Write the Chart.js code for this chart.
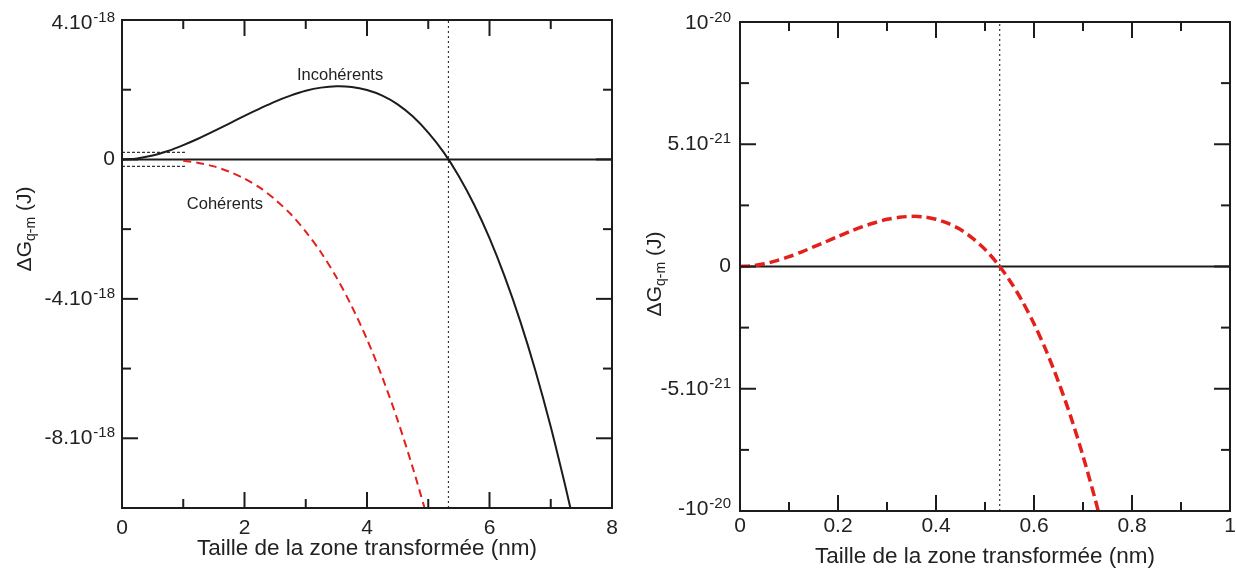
<!DOCTYPE html>
<html>
<head>
<meta charset="utf-8">
<script src="https://cdn.jsdelivr.net/npm/chart.js@4.4.1/dist/chart.umd.min.js"></script>
<style>
    html, body { margin: 0; padding: 0; background: #fff; }
    body { width: 1236px; height: 569px; position: relative; overflow: hidden; }
    canvas { position: absolute; top: 0; }
    #leftChart { left: 0; }
    #rightChart { left: 620px; }
</style>
</head>
<body>
<canvas id="leftChart" width="620" height="569"></canvas>
<canvas id="rightChart" width="616" height="569"></canvas>
<script>
// left panel, energies in 1e-18 J, size in nm
const incohX = [0, 0.25, 0.5, 0.75, 1, 1.25, 1.5, 1.75, 2, 2.25, 2.5, 2.75, 3, 3.25, 3.5, 3.75, 4, 4.25, 4.5, 4.75, 5, 5.25, 5.5, 5.75, 6, 6.25, 6.5, 6.75, 7, 7.25, 7.32];
const incohY = [0, 0.03, 0.11, 0.24, 0.41, 0.6, 0.81, 1.03, 1.25, 1.46, 1.66, 1.83, 1.97, 2.06, 2.1, 2.08, 1.99, 1.83, 1.58, 1.23, 0.77, 0.21, -0.48, -1.3, -2.26, -3.37, -4.63, -6.06, -7.67, -9.46, -10];
const cohX = [1, 1.25, 1.5, 1.75, 2, 2.25, 2.5, 2.75, 3, 3.25, 3.5, 3.75, 4, 4.25, 4.5, 4.75, 4.94];
const cohY = [-0.04, -0.1, -0.2, -0.35, -0.55, -0.81, -1.15, -1.56, -2.07, -2.67, -3.38, -4.21, -5.16, -6.25, -7.48, -8.86, -10];
const leftCritX = 5.33;
const zoomBoxX = [0, 1.04];
const zoomBoxY = [0.2, -0.2];

// right panel, energies in 1e-21 J
const rightX = [0, 0.025, 0.05, 0.075, 0.1, 0.125, 0.15, 0.175, 0.2, 0.225, 0.25, 0.275, 0.3, 0.325, 0.35, 0.375, 0.4, 0.425, 0.45, 0.475, 0.5, 0.525, 0.55, 0.575, 0.6, 0.625, 0.65, 0.675, 0.7, 0.725, 0.731];
const rightY = [0, 0.03, 0.11, 0.24, 0.4, 0.59, 0.8, 1.01, 1.23, 1.44, 1.63, 1.79, 1.93, 2.01, 2.05, 2.03, 1.93, 1.76, 1.51, 1.15, 0.7, 0.13, -0.56, -1.38, -2.34, -3.45, -4.72, -6.14, -7.75, -9.53, -10];
const rightCritX = 0.53;

// tick labels
const leftXMajor = [0, 2, 4, 6, 8];
const leftXMinor = [1, 3, 5, 7];
const leftYValues = [4, 0, -4, -8];
const leftYMant = ["4.10", "0", "-4.10", "-8.10"];
const leftYExp = ["-18", "", "-18", "-18"];
const leftYMinor = [2, -2, -6];

const rightXMajor = [0, 0.2, 0.4, 0.6, 0.8, 1];
const rightXLabels = ["0", "0.2", "0.4", "0.6", "0.8", "1"];
const rightXMinor = [0.1, 0.3, 0.5, 0.7, 0.9];
const rightYValues = [10, 5, 0, -5, -10];
const rightYMant = ["10", "5.10", "0", "-5.10", "-10"];
const rightYExp = ["-20", "-21", "", "-21", "-20"];
const rightYMinor = [7.5, 2.5, -2.5, -7.5];

const xTitle = "Taille de la zone transformée (nm)";
const FONT = '"Liberation Sans", Arial, Helvetica, sans-serif';
const INK = "#1c1c1c";
const RED = "#e3201c";

function pts(xs, ys) {
    return xs.map((x, i) => ({ x: x, y: ys[i] }));
}

function makeDecor(ax) {
    return {
        id: "decor",
        afterDatasetsDraw(chart) {
            let ctx = chart.ctx;
            let a = chart.chartArea;
            let sx = chart.scales.x;
            let sy = chart.scales.y;

            ctx.save();
            ctx.strokeStyle = INK;
            ctx.lineWidth = 2;
            ctx.strokeRect(a.left, a.top, a.right - a.left, a.bottom - a.top);

            let line = (x1, y1, x2, y2) => {
                ctx.beginPath();
                ctx.moveTo(x1, y1);
                ctx.lineTo(x2, y2);
                ctx.stroke();
            };

            let xTicks = (vals, len) => vals.forEach(v => {
                let px = sx.getPixelForValue(v);
                if (px <= a.left + 1 || px >= a.right - 1) return;
                line(px, a.bottom, px, a.bottom - len);
                line(px, a.top, px, a.top + len);
            });
            let yTicks = (vals, len) => vals.forEach(v => {
                let py = sy.getPixelForValue(v);
                if (py <= a.top + 1 || py >= a.bottom - 1) return;
                line(a.left, py, a.left + len, py);
                line(a.right, py, a.right - len, py);
            });
            xTicks(ax.xMajor, 16);
            xTicks(ax.xMinor, 9);
            yTicks(ax.yValues, 16);
            yTicks(ax.yMinor, 9);

            // x tick labels
            ctx.fillStyle = "#222";
            ctx.font = "21px " + FONT;
            ctx.textAlign = "center";
            ctx.textBaseline = "middle";
            ax.xMajor.forEach((v, i) => {
                ctx.fillText(ax.xLabels[i], sx.getPixelForValue(v), a.bottom + ax.xLabelGap);
            });

            // y tick labels with exponent
            ctx.textAlign = "left";
            ax.yValues.forEach((v, i) => {
                let py = sy.getPixelForValue(v) + (ax.yShift[i] || 0);
                let mant = ax.yMant[i];
                let exp = ax.yExp[i];
                ctx.font = "21px " + FONT;
                let mw = ctx.measureText(mant).width;
                ctx.font = "15px " + FONT;
                let ew = exp ? ctx.measureText(exp).width + 1 : 0;
                let right = a.left - ax.yLabelGap;
                ctx.font = "21px " + FONT;
                ctx.fillText(mant, right - ew - mw, py);
                if (exp) {
                    ctx.font = "15px " + FONT;
                    ctx.fillText(exp, right - ew + 1, py - 5);
                }
            });

            // x title
            ctx.font = "22.5px " + FONT;
            ctx.textAlign = "center";
            ctx.fillText(xTitle, (a.left + a.right) / 2, ax.xTitleY);

            // y title, rotated, with subscript
            ctx.save();
            ctx.translate(ax.yTitleX, ax.yTitleY);
            ctx.rotate(-Math.PI / 2);
            ctx.textAlign = "left";
            ctx.font = "21px " + FONT;
            let w1 = ctx.measureText("ΔG").width;
            let w3 = ctx.measureText(" (J)").width;
            ctx.font = "14px " + FONT;
            let w2 = ctx.measureText("q-m").width;
            let x0 = -(w1 + w2 + w3) / 2;
            ctx.font = "21px " + FONT;
            ctx.fillText("ΔG", x0, 0);
            ctx.font = "14px " + FONT;
            ctx.fillText("q-m", x0 + w1, 6);
            ctx.font = "21px " + FONT;
            ctx.fillText(" (J)", x0 + w1 + w2, 0);
            ctx.restore();

            // curve labels
            ctx.font = "16.5px " + FONT;
            ctx.textAlign = "center";
            (ax.notes || []).forEach(n => {
                ctx.fillText(n.text, sx.getPixelForValue(n.x), sy.getPixelForValue(n.y));
            });

            ctx.restore();
        }
    };
}

function baseOptions(xMax, yMin, yMax, pad, yWidth, xHeight) {
    return {
        responsive: false,
        animation: false,
        devicePixelRatio: 1,
        layout: { padding: pad },
        plugins: {
            legend: { display: false },
            tooltip: { enabled: false }
        },
        elements: { point: { radius: 0 } },
        scales: {
            x: {
                type: "linear",
                min: 0,
                max: xMax,
                grid: { display: false },
                border: { display: false },
                ticks: { display: false },
                afterFit: s => { s.height = xHeight; }
            },
            y: {
                min: yMin,
                max: yMax,
                grid: { display: false },
                border: { display: false },
                ticks: { display: false },
                afterFit: s => { s.width = yWidth; }
            }
        }
    };
}

function lineSet(data, color, width, dash, order, tension) {
    return {
        data: data,
        borderColor: color,
        borderWidth: width,
        borderDash: dash,
        pointRadius: 0,
        fill: false,
        tension: tension || 0,
        order: order
    };
}

let leftChart = new Chart(document.getElementById("leftChart"), {
    type: "line",
    data: {
        datasets: [
            lineSet(pts(cohX, cohY), RED, 2, [8, 5], 0, 0.3),
            lineSet(pts(incohX, incohY), INK, 2, [], 1, 0.3),
            lineSet([{ x: 0, y: 0 }, { x: 8, y: 0 }], INK, 2, [], 2),
            lineSet([{ x: leftCritX, y: -10 }, { x: leftCritX, y: 4 }], "#333", 1.2, [2, 3], 3),
            lineSet(pts(zoomBoxX, [zoomBoxY[0], zoomBoxY[0]]), "#333", 1.2, [3, 2], 3),
            lineSet(pts(zoomBoxX, [zoomBoxY[1], zoomBoxY[1]]), "#333", 1.2, [3, 2], 3)
        ]
    },
    options: baseOptions(8, -10, 4, { top: 20, right: 8, left: 0, bottom: 0 }, 122, 61),
    plugins: [makeDecor({
        xMajor: leftXMajor,
        xLabels: leftXMajor.map(String),
        xMinor: leftXMinor,
        yValues: leftYValues,
        yMant: leftYMant,
        yExp: leftYExp,
        yMinor: leftYMinor,
        yShift: [3, 0, 0, 0],
        yLabelGap: 7,
        xLabelGap: 20,
        xTitleY: 549,
        yTitleX: 25,
        yTitleY: 229,
        notes: [
            { text: "Incohérents", x: 3.56, y: 2.4 },
            { text: "Cohérents", x: 1.68, y: -1.29 }
        ]
    })]
});

let rightChart = new Chart(document.getElementById("rightChart"), {
    type: "line",
    data: {
        datasets: [
            lineSet(pts(rightX, rightY), RED, 3.5, [10, 5], 0, 0.3),
            lineSet([{ x: 0, y: 0 }, { x: 1, y: 0 }], INK, 2, [], 1),
            lineSet([{ x: rightCritX, y: -10 }, { x: rightCritX, y: 10 }], "#333", 1.2, [2, 3], 2)
        ]
    },
    options: baseOptions(1, -10, 10, { top: 22, right: 6, left: 0, bottom: 0 }, 120, 58),
    plugins: [makeDecor({
        xMajor: rightXMajor,
        xLabels: rightXLabels,
        xMinor: rightXMinor,
        yValues: rightYValues,
        yMant: rightYMant,
        yExp: rightYExp,
        yMinor: rightYMinor,
        yShift: [1, 0, 0, 0, -2],
        yLabelGap: 9,
        xLabelGap: 15,
        xTitleY: 557,
        yTitleX: 35,
        yTitleY: 274,
        notes: []
    })]
});
</script>
</body>
</html>
